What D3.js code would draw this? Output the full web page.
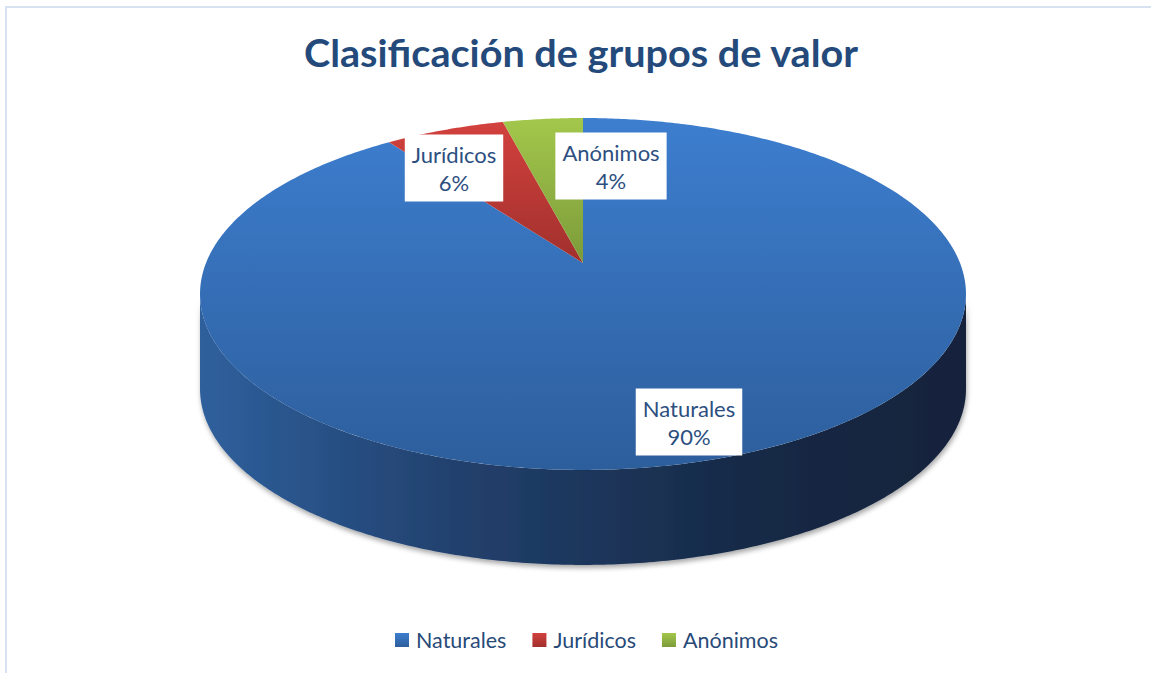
<!DOCTYPE html>
<html>
<head>
<meta charset="utf-8">
<script src="https://cdn.jsdelivr.net/npm/d3@7"></script>
<style>
  body { margin: 0; background: #fff; }
  svg { display: block; font-family: Lato, "Open Sans", sans-serif; }
</style>
</head>
<body>
<svg id="chart"></svg>
<script>
// data
var categories = ["Naturales", "Jurídicos", "Anónimos"]
var values = [90, 6, 4]
var percentLabels = ["90%", "6%", "4%"]
var topColors = [["#3d7ecf", "#2d5e9c"], ["#d2413d", "#a1302d"], ["#a3c74b", "#7c9b3a"]]

var screen = {width: 1151, height: 673}
var svg = d3.select("#chart")
    .attr("width", screen.width)
    .attr("height", screen.height)

// perspective pie: x right, z into the page
var pie3d = {cx: 583, cy: 263, R: 377, B: 170.5, k: 0.176, depth: 95}

var project = function(theta, r) {
    var x = r * Math.sin(theta), z = r * Math.cos(theta)
    var den = 1 + pie3d.k * z
    return [pie3d.cx + pie3d.R * x / den, pie3d.cy - pie3d.B * z / den]
}

var rim = function(a0, a1, dy) {
    var n = Math.max(2, Math.ceil((a1 - a0) / 0.01))
    return d3.range(n + 1).map(function(i) {
        var p = project(a0 + (a1 - a0) * i / n, 1)
        return [p[0], p[1] + (dy || 0)]
    })
}

var defs = svg.append("defs")

// border of the chart area
svg.append("rect")
    .attr("x", 6).attr("y", 7)
    .attr("width", 1200).attr("height", 700)
    .attr("fill", "none")
    .attr("stroke", "#d6e2f2")
    .attr("stroke-width", 2)

// title
svg.append("text")
    .text("Clasificación de grupos de valor")
    .attr("x", 581).attr("y", 67)
    .attr("text-anchor", "middle")
    .attr("font-size", 38)
    .attr("font-weight", "bold")
    .attr("fill", "#244a7b")
    .attr("textLength", 554)
    .attr("lengthAdjust", "spacingAndGlyphs")

var pie = d3.pie().sort(null).value(function(d) { return d })
var arcs = pie(values)

topColors.forEach(function(c, i) {
    var g = defs.append("linearGradient").attr("id", "top" + i)
        .attr("x1", 0).attr("y1", 0).attr("x2", 0).attr("y2", 1)
    g.append("stop").attr("offset", 0).attr("stop-color", c[0])
    g.append("stop").attr("offset", 1).attr("stop-color", c[1])
})

var sideGrad = defs.append("linearGradient").attr("id", "side")
    .attr("gradientUnits", "userSpaceOnUse")
    .attr("x1", pie3d.cx - 385).attr("y1", 0)
    .attr("x2", pie3d.cx + 385).attr("y2", 0)
sideGrad.selectAll("stop")
    .data([[0, "#2f609d"], [0.33, "#22416e"], [0.7, "#172a47"], [1, "#13233b"]])
    .enter().append("stop")
    .attr("offset", function(d) { return d[0] })
    .attr("stop-color", function(d) { return d[1] })

var shadow = defs.append("filter").attr("id", "shadow")
    .attr("x", "-10%").attr("y", "-10%").attr("width", "120%").attr("height", "130%")
shadow.append("feDropShadow")
    .attr("dx", 1).attr("dy", 3).attr("stdDeviation", 2.5)
    .attr("flood-color", "#000").attr("flood-opacity", 0.35)

var line = d3.line()

// visible outer wall: between the two silhouette angles
var s0 = Math.acos(-pie3d.k), s1 = 2 * Math.PI - s0
svg.append("g").attr("filter", "url(#shadow)")
    .selectAll("path")
    .data(arcs.filter(function(a) { return a.endAngle > s0 && a.startAngle < s1 }))
    .enter().append("path")
    .attr("d", function(a) {
        var a0 = Math.max(a.startAngle, s0), a1 = Math.min(a.endAngle, s1)
        var pts = rim(a0, a1, 0).concat(rim(a0, a1, pie3d.depth).reverse())
        return line(pts) + "Z"
    })
    .attr("fill", "url(#side)")

// top faces
svg.append("g").selectAll("path")
    .data(arcs)
    .enter().append("path")
    .attr("d", function(a) {
        var pts = [project(0, 0)].concat(rim(a.startAngle, a.endAngle, 0))
        return line(pts) + "Z"
    })
    .attr("fill", function(a, i) { return "url(#top" + i + ")" })

// data labels
var labelCenters = [[689, 422], [454, 168], [611, 166]]
var labels = svg.append("g").selectAll("g")
    .data(arcs)
    .enter().append("g")
    .attr("transform", function(a, i) { return "translate(" + labelCenters[i][0] + "," + labelCenters[i][1] + ")" })
var boxes = labels.append("rect").attr("fill", "#fff")
labels.append("text")
    .attr("text-anchor", "middle")
    .attr("font-size", 22)
    .attr("fill", "#2d4f7f")
    .selectAll("tspan")
    .data(function(a, i) { return [categories[i], percentLabels[i]] })
    .enter().append("tspan")
    .attr("x", 0)
    .attr("y", function(d, j) { return j === 0 ? -5 : 23 })
    .text(function(d) { return d })
boxes.each(function() {
    var t = d3.select(this.parentNode).select("text").node().getBBox()
    d3.select(this)
        .attr("x", -t.width / 2 - 7).attr("y", -33.5)
        .attr("width", t.width + 14).attr("height", 67)
})

// legend
var legend = svg.append("g")
var items = legend.selectAll("g")
    .data(categories)
    .enter().append("g")
items.append("rect")
    .attr("width", 14).attr("height", 14)
    .attr("y", -7)
    .attr("fill", function(d, i) { return "url(#top" + i + ")" })
items.append("text")
    .text(function(d) { return d })
    .attr("x", 21)
    .attr("y", 7.5)
    .attr("font-size", 21.5)
    .attr("fill", "#284a78")
var xpos = 0
items.each(function() {
    var w = d3.select(this).select("text").node().getComputedTextLength()
    d3.select(this).attr("transform", "translate(" + xpos + ",0)")
    xpos += 21 + w + 26
})
var legendWidth = xpos - 26
legend.attr("transform", "translate(" + (586.5 - legendWidth / 2) + ",640)")
</script>
</body>
</html>
